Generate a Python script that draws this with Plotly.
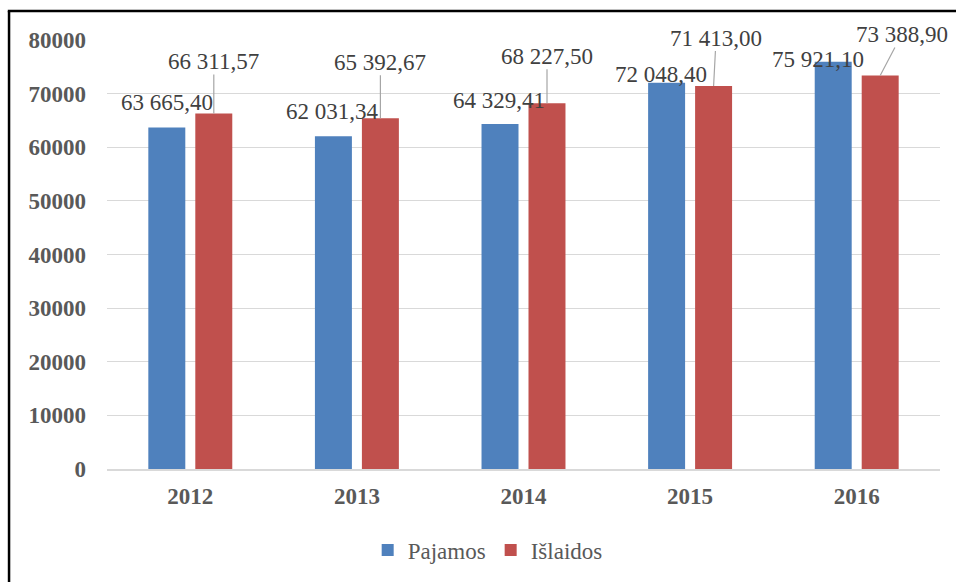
import plotly.graph_objects as go

years = ["2012", "2013", "2014", "2015", "2016"]
pajamos = [63665.40, 62031.34, 64329.41, 72048.40, 75921.10]
islaidos = [66311.57, 65392.67, 68227.50, 71413.00, 73388.90]
pajamos_labels = ["63 665,40", "62 031,34", "64 329,41", "72 048,40", "75 921,10"]
islaidos_labels = ["66 311,57", "65 392,67", "68 227,50", "71 413,00", "73 388,90"]
y_ticks = [0, 10000, 20000, 30000, 40000, 50000, 60000, 70000, 80000]

BLUE = "#4F81BD"
RED = "#C0504D"
FONT = "Liberation Serif, Times New Roman, serif"

fig = go.Figure()
fig.add_trace(go.Bar(name="Pajamos", x=years, y=pajamos, marker=dict(color=BLUE, line=dict(width=0))))
fig.add_trace(go.Bar(name="Išlaidos", x=years, y=islaidos, marker=dict(color=RED, line=dict(width=0))))

# label placement offsets (pixels)
blue_dx = [0, -0.5, -1, -6, -15]
blue_dy = [25, 24.7, 24, 8, 2]
red_ax = [0, 0, 0, 2.5, 21.5]
red_ay = [-52, -56, -47, -48, -41]
HALF = 23.5

annotations = []
for i, yr in enumerate(years):
    annotations.append(dict(
        x=i, y=pajamos[i], xref="x", yref="y", text=pajamos_labels[i],
        showarrow=False, xshift=-HALF + blue_dx[i], yshift=blue_dy[i],
        xanchor="center", yanchor="middle",
        font=dict(family=FONT, size=23, color="#404040")))
    annotations.append(dict(
        x=i, y=islaidos[i], xref="x", yref="y", text=islaidos_labels[i],
        showarrow=True, arrowhead=0, arrowwidth=1.2, arrowcolor="#A6A6A6",
        ax=red_ax[i], ay=red_ay[i], xshift=HALF, borderpad=0,
        font=dict(family=FONT, size=23, color="#404040")))

fig.update_layout(
    width=956, height=582,
    margin=dict(l=107, r=16, t=40, b=112),
    paper_bgcolor="white", plot_bgcolor="white",
    barmode="group", bargap=0.436, bargroupgap=0.213,
    font=dict(family=FONT, size=23, color="#595959"),
    showlegend=True,
    legend=dict(orientation="h", x=0.457, xanchor="center", y=-0.186, yanchor="middle",
                font=dict(family=FONT, size=23, color="#595959"), itemwidth=30),
    annotations=annotations,
    shapes=[
        dict(type="line", xref="paper", yref="paper", x0=-0.1176, x1=-0.1176, y0=-0.3, y1=1.0674,
             line=dict(color="black", width=2.5)),
        dict(type="line", xref="paper", yref="paper", x0=-0.1191, x1=1.05, y0=1.0674, y1=1.0674,
             line=dict(color="black", width=2.5)),
    ],
)
fig.update_xaxes(
    type="category", range=[-0.5, 4.5], autorange=False,
    showgrid=False, showline=True, linecolor="#D9D9D9", linewidth=1.5,
    ticks="", tickfont=dict(family=FONT, size=23, color="#595959", weight="bold"),
    ticklabelstandoff=6,
)
fig.update_yaxes(
    range=[0, 80000], autorange=False, tickvals=y_ticks, ticktext=[str(v) for v in y_ticks],
    showgrid=True, gridcolor="#D9D9D9", gridwidth=1.2, zeroline=False,
    showline=False, ticks="",
    tickfont=dict(family=FONT, size=23, color="#595959", weight="bold"),
    ticklabelstandoff=20,
)

fig.write_html("out.html", config={"displayModeBar": False},
               post_script="document.body.style.margin='0';")
